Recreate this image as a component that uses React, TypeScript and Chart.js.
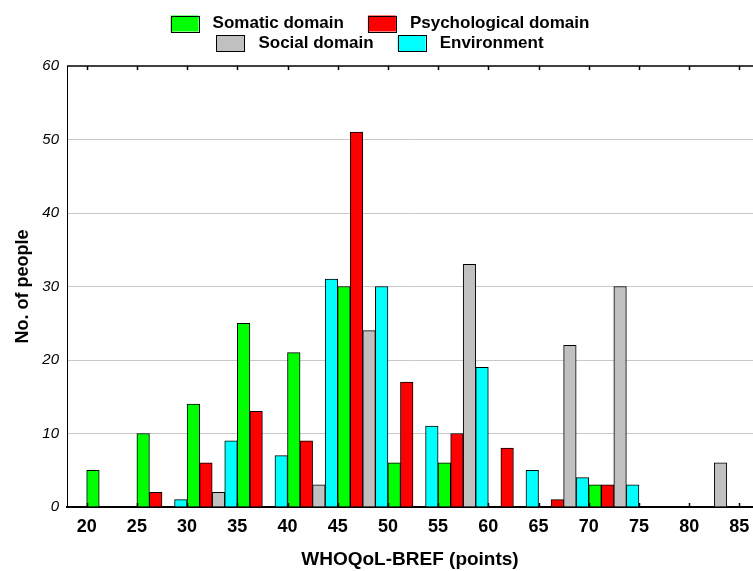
import React, { useEffect, useRef } from 'react';
import { Chart, registerables } from 'chart.js';

Chart.register(...registerables);

// ---- data ----
const seriesNames = ['Somatic domain', 'Psychological domain', 'Social domain', 'Environment'];
const seriesColors = ['#00ff00', '#ff0000', '#c0c0c0', '#00ffff'];
const binStarts = [20, 25, 30, 35, 40, 45, 50, 55, 60, 65, 70, 75, 80];
const somatic = [5, 10, 14, 25, 21, 30, 6, 6, 0, 0, 3, 0, 0];
const psychological = [0, 2, 6, 13, 9, 51, 17, 10, 8, 1, 3, 0, 0];
const social = [0, 0, 2, 0, 3, 24, 0, 33, 0, 22, 30, 0, 6];
const environment = [0, 1, 9, 7, 31, 30, 11, 19, 5, 4, 3, 0, 0];
const xTickLabels = [20, 25, 30, 35, 40, 45, 50, 55, 60, 65, 70, 75, 80, 85];
const yTickValues = [0, 10, 20, 30, 40, 50, 60];
const binWidth = 5;
const xMin = 18.04;
const xMax = 86.36;

const FONT = '"Liberation Sans", Arial, Helvetica, sans-serif';

const allSeries = [somatic, psychological, social, environment];

const frameLegendPlugin = {
  id: 'frameLegend',
  afterDraw(chart: any) {
    const { ctx, chartArea } = chart;
    const xs = chart.scales.x;
    ctx.save();
    // top frame line
    ctx.strokeStyle = '#000';
    ctx.lineWidth = 1.5;
    ctx.beginPath();
    ctx.moveTo(chartArea.left, chartArea.top);
    ctx.lineTo(chartArea.right, chartArea.top);
    ctx.stroke();
    // inward tick marks on top and bottom
    ctx.lineWidth = 1.5;
    xs.ticks.forEach((t: any) => {
      const px = Math.round(xs.getPixelForValue(t.value)) + 0.5;
      ctx.beginPath();
      ctx.moveTo(px, chartArea.top);
      ctx.lineTo(px, chartArea.top + 4);
      ctx.moveTo(px, chartArea.bottom);
      ctx.lineTo(px, chartArea.bottom - 4);
      ctx.stroke();
    });
    // legend
    ctx.font = 'bold 17px ' + FONT;
    ctx.textBaseline = 'middle';
    ctx.textAlign = 'left';
    const rows = [[0, 1], [2, 3]];
    const rowY = [23.5, 43];
    const centerX = 380;
    const boxW = 28;
    const boxH = 16;
    const gapBoxText = 14;
    const gapItems = 24;
    rows.forEach((row, r) => {
      const widths = row.map((i) => boxW + gapBoxText + ctx.measureText(seriesNames[i]).width);
      const total = widths.reduce((a, b) => a + b, 0) + gapItems * (row.length - 1);
      let x = centerX - total / 2;
      row.forEach((i, k) => {
        const y = rowY[r];
        ctx.fillStyle = seriesColors[i];
        ctx.fillRect(x, y - boxH / 2, boxW, boxH);
        ctx.strokeStyle = '#000';
        ctx.lineWidth = 1;
        ctx.strokeRect(Math.round(x) + 0.5, Math.round(y - boxH / 2) + 0.5, boxW, boxH);
        ctx.fillStyle = '#000';
        ctx.fillText(seriesNames[i], x + boxW + gapBoxText, y);
        x += widths[k] + gapItems;
      });
    });
    ctx.restore();
  },
};

export default function App() {
  const canvasRef = useRef<HTMLCanvasElement | null>(null);

  useEffect(() => {
    if (!canvasRef.current) return;
    const slot = binWidth / allSeries.length;
    const datasets = allSeries.map((vals, s) => ({
      label: seriesNames[s],
      data: binStarts
        .map((b, i) => ({ x: b + (s + 0.5) * slot, y: vals[i] }))
        .filter((p) => p.y > 0),
      backgroundColor: seriesColors[s],
      borderColor: '#000',
      borderWidth: 1,
      grouped: false,
      barPercentage: 1,
      categoryPercentage: 1,
    }));

    const chart = new Chart(canvasRef.current, {
      type: 'bar',
      data: { datasets: datasets as any },
      plugins: [frameLegendPlugin],
      options: {
        responsive: false,
        animation: false,
        devicePixelRatio: 1,
        layout: { padding: { top: 66, right: 0, left: 0, bottom: 0 } },
        plugins: {
          legend: { display: false },
          tooltip: { enabled: false },
        },
        scales: {
          x: {
            type: 'linear',
            offset: false,
            min: xMin,
            max: xMax,
            afterBuildTicks: (scale: any) => {
              scale.ticks = xTickLabels.map((v) => ({ value: v }));
            },
            afterFit: (scale: any) => {
              scale.height = 64;
              scale.paddingLeft = 0;
              scale.paddingRight = 0;
            },
            grid: { drawOnChartArea: false, drawTicks: false, offset: false },
            border: { display: true, color: '#000', width: 2 },
            ticks: {
              autoSkip: false,
              maxRotation: 0,
              padding: 9,
              color: '#000',
              font: { family: FONT, size: 18, weight: 'bold' },
              callback: (v: any) => String(v),
            },
            title: {
              display: true,
              text: 'WHOQoL-BREF (points)',
              color: '#000',
              font: { family: FONT, size: 19, weight: 'bold' },
              padding: { top: -2, bottom: 0 },
            },
          },
          y: {
            type: 'linear',
            min: 0,
            max: 60,
            afterBuildTicks: (scale: any) => {
              scale.ticks = yTickValues.map((v) => ({ value: v }));
            },
            afterFit: (scale: any) => {
              scale.width = 67;
              scale.paddingTop = 0;
              scale.paddingBottom = 0;
            },
            grid: {
              drawTicks: false,
              color: (c: any) =>
                c.tick && c.tick.value > 0 && c.tick.value < 60 ? '#c8c8c8' : 'rgba(0,0,0,0)',
              lineWidth: 1,
            },
            border: { display: true, color: '#000', width: 1 },
            ticks: {
              padding: 8,
              color: '#000',
              font: { family: FONT, size: 15, style: 'italic' },
            },
            title: {
              display: true,
              text: 'No. of people',
              color: '#000',
              font: { family: FONT, size: 18, weight: 'bold' },
              padding: { top: 12, bottom: 0 },
            },
          },
        },
      } as any,
    });
    return () => chart.destroy();
  }, []);

  return (
    <div style={{ position: 'fixed', left: 0, top: 0, width: 753, height: 571, background: '#fff' }}>
      <canvas ref={canvasRef} width={753} height={571} style={{ display: 'block' }} />
    </div>
  );
}
